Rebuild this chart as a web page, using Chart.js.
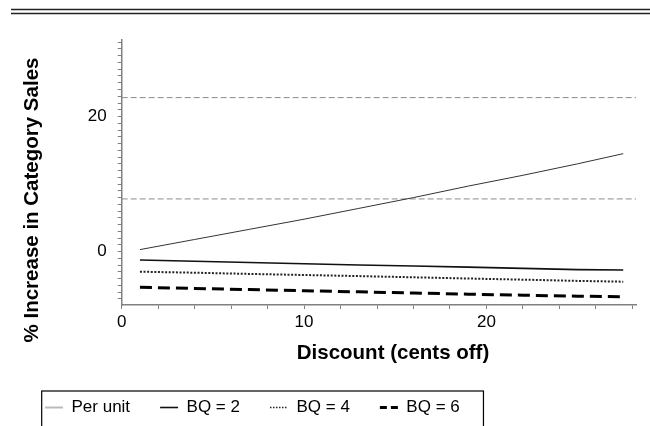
<!DOCTYPE html>
<html>
<head>
<meta charset="utf-8">
<script src="https://cdn.jsdelivr.net/npm/chart.js@4.4.1/dist/chart.umd.min.js"></script>
<style>
body { margin: 0; background: #fff; }
</style>
</head>
<body>
<canvas id="salesChart" width="650" height="426"></canvas>
<script>
// values
const discounts = [1, 4, 7, 10, 13, 16, 19, 22, 25, 27.5];
const perUnit = [0.3, 1.8, 3.3, 4.8, 6.4, 8.0, 9.7, 11.3, 13.0, 14.5];
const bq2 = [-1.24, -1.42, -1.62, -1.80, -1.98, -2.12, -2.30, -2.48, -2.66, -2.72];
const bq4 = [-2.97, -3.12, -3.30, -3.46, -3.62, -3.80, -3.98, -4.15, -4.33, -4.45];
const bq6 = [-5.29, -5.45, -5.62, -5.78, -5.95, -6.12, -6.30, -6.45, -6.60, -6.67];
const refLines = [22.8, 7.8];
const xRange = [0, 28.2];
const yRange = [-7.9, 31.4];
const xLabels = [0, 10, 20];
const yLabels = [0, 20];
const xTitle = 'Discount (cents off)';
const yTitle = '% Increase in Category Sales';

Chart.defaults.font.family = '"Liberation Sans", Arial, sans-serif';
Chart.defaults.color = '#000';

const pts = ys => discounts.map((x, i) => ({x: x, y: ys[i]}));
const axisGray = '#808080';

const refSets = refLines.map(v => ({
    label: '',
    data: [{x: xRange[0], y: v}, {x: xRange[1], y: v}],
    borderColor: '#8c8c8c',
    borderWidth: 1,
    borderDash: [6, 3]
}));

// double rule on top, axis titles, frame round the legend
const decorations = {
    id: 'decorations',
    afterDraw(chart) {
        const ctx = chart.ctx;
        ctx.save();
        ctx.strokeStyle = '#222';
        ctx.lineWidth = 1.5;
        [9.5, 13.5].forEach(y => {
            ctx.beginPath();
            ctx.moveTo(11, y);
            ctx.lineTo(650, y);
            ctx.stroke();
        });

        const boxes = chart.legend.legendHitBoxes;
        if (boxes && boxes.length) {
            const first = boxes[0], last = boxes[boxes.length - 1];
            const left = first.left - 3.3;
            const top = first.top - 8;
            const right = last.left + last.width + 23.7;
            ctx.strokeStyle = '#000';
            ctx.lineWidth = 1.2;
            ctx.strokeRect(left, top, right - left, 440 - top);
        }

        ctx.fillStyle = '#000';
        ctx.font = 'bold 20.5px "Liberation Sans", Arial, sans-serif';
        ctx.textAlign = 'center';
        ctx.textBaseline = 'middle';
        ctx.fillText(xTitle, 393, 353);
        ctx.translate(32.5, 200);
        ctx.rotate(-Math.PI / 2);
        ctx.fillText(yTitle, 0, 0);
        ctx.restore();
    }
};

const ctx = document.getElementById('salesChart').getContext('2d');
const salesChart = new Chart(ctx, {
    type: 'line',
    data: {
        datasets: [{
            label: 'Per unit',
            data: pts(perUnit),
            borderColor: '#333',
            borderWidth: 1
        }, {
            label: 'BQ = 2',
            data: pts(bq2),
            borderColor: '#111',
            borderWidth: 1.6
        }, {
            label: 'BQ = 4',
            data: pts(bq4),
            borderColor: '#222',
            borderWidth: 2,
            borderDash: [2, 1.6]
        }, {
            label: 'BQ = 6',
            data: pts(bq6),
            borderColor: '#000',
            borderWidth: 3,
            borderDash: [12, 6]
        }].concat(refSets)
    },
    options: {
        responsive: false,
        animation: false,
        layout: { padding: { left: 15, top: 39.5, right: 14, bottom: 0 } },
        elements: {
            point: { radius: 0 },
            line: { tension: 0 }
        },
        plugins: {
            tooltip: { enabled: false },
            legend: {
                position: 'bottom',
                align: 'start',
                labels: {
                    usePointStyle: true,
                    pointStyleWidth: 18,
                    padding: 30,
                    color: '#000',
                    font: { size: 17 },
                    filter: item => item.text !== '',
                    generateLabels: chart => {
                        const items = Chart.defaults.plugins.legend.labels.generateLabels(chart);
                        items.forEach(it => {
                            it.pointStyle = 'line';
                            if (it.text === 'Per unit') { it.strokeStyle = '#bbb'; it.lineWidth = 2; }
                            if (it.text === 'BQ = 4') { it.lineWidth = 1.5; it.lineDash = [1.5, 1.5]; }
                            if (it.text === 'BQ = 6') { it.lineDash = [7, 4]; }
                        });
                        return items;
                    }
                }
            }
        },
        scales: {
            x: {
                type: 'linear',
                min: xRange[0],
                max: xRange[1],
                afterFit: s => { s.height = 64; },
                ticks: {
                    stepSize: 2,
                    autoSkip: false,
                    includeBounds: false,
                    maxRotation: 0,
                    padding: 3,
                    font: { size: 17 },
                    callback: v => xLabels.includes(v) ? String(v) : ''
                },
                grid: { drawOnChartArea: false, tickLength: 4, color: axisGray },
                border: { color: axisGray, width: 1.5 }
            },
            y: {
                min: yRange[0],
                max: yRange[1],
                afterFit: s => { s.width = 106.7; },
                ticks: {
                    stepSize: 1,
                    autoSkip: false,
                    includeBounds: false,
                    padding: 11,
                    font: { size: 17 },
                    callback: v => yLabels.includes(v) ? String(v) : ''
                },
                grid: { drawOnChartArea: false, tickLength: 4, color: axisGray },
                border: { color: axisGray, width: 1.5 }
            }
        }
    },
    plugins: [decorations]
});
</script>
</body>
</html>
